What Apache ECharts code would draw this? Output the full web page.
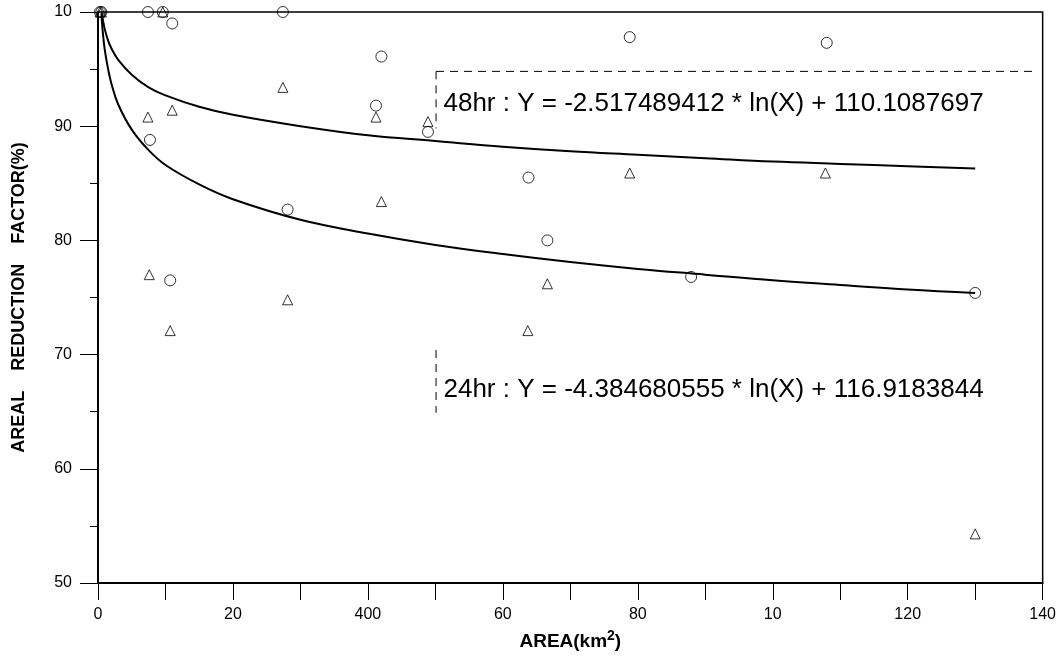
<!DOCTYPE html>
<html><head><meta charset="utf-8">
<script src="https://cdn.jsdelivr.net/npm/echarts@6/dist/echarts.min.js"></script>
<style>html,body{margin:0;padding:0;background:#fff}#c{width:1059px;height:656px}</style>
</head><body><div id="c"></div>
<script>
// x tick labels as printed on the original (value -> text)
const xTickLabels = {0:'0',20:'20',40:'400',60:'60',80:'80',100:'10',120:'120',140:'140'};
const yTickLabels = {50:'50',60:'60',70:'70',80:'80',90:'90',100:'10'};

// circle markers
const circleX = [0.3, 0.5, 7.4, 9.6, 11.0, 27.4, 7.7, 10.7, 28.1, 42.0, 41.2, 48.9, 78.8, 63.8, 66.6, 87.9, 108.0, 130.0];
const circleY = [100, 100, 100, 100, 99.0, 100, 88.8, 76.5, 82.7, 96.1, 91.8, 89.5, 97.8, 85.5, 80.0, 76.8, 97.3, 75.4];
// triangle markers
const triX = [0.3, 0.5, 9.6, 27.4, 7.4, 11.0, 7.6, 28.1, 10.7, 41.2, 48.9, 42.0, 78.8, 66.6, 63.7, 107.8, 130.0];
const triY = [100, 100, 100, 93.4, 90.8, 91.4, 77.0, 74.8, 72.1, 90.8, 90.4, 83.4, 85.9, 76.2, 72.1, 85.9, 54.3];

// fitted curves
const curveX = [0.5, 0.7, 1, 1.5, 2, 3, 5, 7.5, 10, 15, 20, 30, 40, 50, 60, 70, 80, 90, 100, 110, 120, 130];
const curve48 = [100.0, 99.4, 98.5, 97.5, 96.8, 95.8, 94.5, 93.4, 92.7, 91.7, 91.0, 90.0, 89.2, 88.7, 88.2, 87.8, 87.5, 87.2, 86.9, 86.7, 86.5, 86.3];
const curve24 = [99.8, 98.3, 96.7, 95.0, 93.7, 91.9, 89.7, 87.9, 86.6, 84.9, 83.6, 81.8, 80.6, 79.6, 78.8, 78.1, 77.5, 77.0, 76.5, 76.1, 75.7, 75.4];

const eq48 = '48hr : Y = -2.517489412 * ln(X) + 110.1087697';
const eq24 = '24hr : Y = -4.384680555 * ln(X) + 116.9183844';

const FONT = '"Liberation Sans", Arial, sans-serif';
const zip = (a, b) => a.map((v, i) => [v, b[i]]);

const chart = echarts.init(document.getElementById('c'), null, {renderer: 'canvas'});
chart.setOption({
  backgroundColor: '#fff',
  animation: false,
  grid: {left: 98, right: 10, top: 12, bottom: 73, show: true, borderColor: '#000', borderWidth: 1.5, backgroundColor: 'transparent'},
  xAxis: {
    type: 'value', min: 0, max: 140, interval: 10,
    name: '{a|AREA(km}{s|2}{a|)}', nameLocation: 'middle', nameGap: 46,
    nameTextStyle: {rich: {
      a: {fontFamily: FONT, fontWeight: 'bold', fontSize: 19, color: '#000', lineHeight: 22, verticalAlign: 'bottom'},
      s: {fontFamily: FONT, fontWeight: 'bold', fontSize: 14, color: '#000', lineHeight: 22, verticalAlign: 'top', padding: [0, 0, 8, 0]}
    }},
    axisLine: {lineStyle: {color: '#000', width: 2}},
    axisTick: {show: true, inside: false, length: 17, lineStyle: {color: '#000', width: 1}},
    axisLabel: {margin: 24, color: '#000', fontSize: 16, fontFamily: FONT, formatter: v => (xTickLabels[v] !== undefined ? xTickLabels[v] : '')},
    splitLine: {show: false}
  },
  yAxis: {
    type: 'value', min: 50, max: 100, interval: 10,
    name: 'AREAL    REDUCTION    FACTOR(%)', nameLocation: 'middle', nameGap: 70,
    nameTextStyle: {fontFamily: FONT, fontWeight: 'bold', fontSize: 18, color: '#000'},
    axisLine: {lineStyle: {color: '#000', width: 2}},
    axisTick: {show: true, length: 18, lineStyle: {color: '#000', width: 1}},
    minorTick: {show: true, splitNumber: 2, length: 8, lineStyle: {color: '#000', width: 1}},
    axisLabel: {margin: 26, color: '#000', fontSize: 16, fontFamily: FONT, formatter: v => (yTickLabels[v] !== undefined ? yTickLabels[v] : '')},
    splitLine: {show: false}
  },
  series: [
    {type: 'line', data: zip(curveX, curve48), smooth: 0.4, showSymbol: false, lineStyle: {color: '#000', width: 2}, z: 2},
    {type: 'line', data: zip(curveX, curve24), smooth: 0.4, showSymbol: false, lineStyle: {color: '#000', width: 2}, z: 2},
    {type: 'scatter', data: zip(circleX, circleY), symbol: 'circle', symbolSize: 11,
     itemStyle: {color: 'rgba(255,255,255,0)', borderColor: '#000', borderWidth: 1}, z: 3},
    {type: 'scatter', data: zip(triX, triY), symbol: 'triangle', symbolSize: 10,
     itemStyle: {color: 'rgba(255,255,255,0)', borderColor: '#000', borderWidth: 1}, z: 3}
  ]
});

function px(x, y) { return chart.convertToPixel({gridIndex: 0}, [x, y]); }
const b48tl = px(50.1, 94.8), b48r = px(139, 94.8), b48b = px(50.1, 89.8), t48 = px(51.2, 92.0);
const b24t = px(50.1, 70.4), b24b = px(50.1, 64.9), t24 = px(51.2, 66.9);
const dash = {stroke: '#000', lineWidth: 1, lineDash: [8, 6]};
chart.setOption({
  graphic: [
    {type: 'line', shape: {x1: b48tl[0], y1: b48tl[1], x2: b48r[0], y2: b48r[1]}, style: dash, silent: true},
    {type: 'line', shape: {x1: b48tl[0], y1: b48tl[1], x2: b48b[0], y2: b48b[1]}, style: dash, silent: true},
    {type: 'line', shape: {x1: b24t[0], y1: b24t[1], x2: b24b[0], y2: b24b[1]}, style: dash, silent: true},
    {type: 'text', x: t48[0], y: t48[1], style: {text: eq48, font: '26px ' + FONT, fill: '#000', verticalAlign: 'middle'}, silent: true},
    {type: 'text', x: t24[0], y: t24[1], style: {text: eq24, font: '26px ' + FONT, fill: '#000', verticalAlign: 'middle'}, silent: true}
  ]
});
</script></body></html>
